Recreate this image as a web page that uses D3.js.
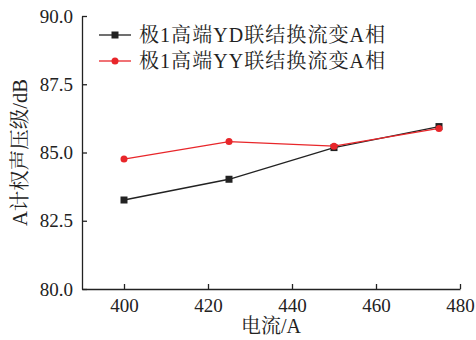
<!DOCTYPE html>
<html><head><meta charset="utf-8">
<script src="https://cdn.jsdelivr.net/npm/d3@7/dist/d3.min.js"></script>
<style>body{margin:0;background:#fff}svg{display:block}</style>
</head><body><svg id="c" width="476" height="340"></svg>
<script>
const currents = [400, 425, 450, 475];
const seriesYD = [83.26, 84.02, 85.18, 85.95];
const seriesYY = [84.76, 85.40, 85.23, 85.88];
const seriesNames = ["极1高端YD联结换流变A相", "极1高端YY联结换流变A相"];
const xTicks = [400, 420, 440, 460, 480];
const yTicks = [80.0, 82.5, 85.0, 87.5, 90.0];

const svg = d3.select("#c");
const m = {l: 82, r: 460, t: 16, b: 289};
const x = d3.scaleLinear().domain([390, 480]).range([m.l, m.r]);
const y = d3.scaleLinear().domain([80, 90]).range([m.b, m.t]);
const font = "'Liberation Serif','Times New Roman','Noto Serif CJK SC','Noto Sans CJK SC',serif";

const xa = svg.append("g").attr("transform", `translate(0,${m.b})`)
  .call(d3.axisBottom(x).tickValues(xTicks).tickSize(-5).tickPadding(10).tickSizeOuter(0));
const ya = svg.append("g").attr("transform", `translate(${m.l},0)`)
  .call(d3.axisLeft(y).tickValues(yTicks).tickFormat(d3.format(".1f")).tickSize(-5).tickPadding(9).tickSizeOuter(0));
[xa, ya].forEach(a => {
  a.selectAll("path,line").attr("stroke", "#222").attr("stroke-width", 1.3);
  a.selectAll("text").attr("font-family", font).attr("font-size", 19).attr("fill", "#222");
});

const series = [
  {vals: seriesYD, color: "#222222", shape: "square"},
  {vals: seriesYY, color: "#e8262a", shape: "circle"}
];
const line = d3.line().x(d => x(d[0])).y(d => y(d[1]));
series.forEach(s => {
  const pts = currents.map((c, i) => [c, s.vals[i]]);
  svg.append("path").datum(pts).attr("d", line).attr("fill", "none")
    .attr("stroke", s.color).attr("stroke-width", 1.3);
  if (s.shape === "square") {
    svg.selectAll(null).data(pts).enter().append("rect")
      .attr("x", d => x(d[0]) - 3.5).attr("y", d => y(d[1]) - 3.5)
      .attr("width", 7).attr("height", 7).attr("fill", s.color);
  } else {
    svg.selectAll(null).data(pts).enter().append("circle")
      .attr("cx", d => x(d[0])).attr("cy", d => y(d[1])).attr("r", 3.5).attr("fill", s.color);
  }
});

// legend
series.forEach((s, i) => {
  const ly = 35 + i * 26;
  svg.append("line").attr("x1", 99).attr("x2", 131).attr("y1", ly).attr("y2", ly)
    .attr("stroke", s.color).attr("stroke-width", 1.3);
  if (s.shape === "square") svg.append("rect").attr("x", 115 - 3.5).attr("y", ly - 3.5).attr("width", 7).attr("height", 7).attr("fill", s.color);
  else svg.append("circle").attr("cx", 115).attr("cy", ly).attr("r", 3.5).attr("fill", s.color);
  svg.append("text").attr("x", 139).attr("y", ly + 7).attr("font-family", font)
    .attr("font-size", 20).attr("fill", "#222")
    .attr("textLength", 246).attr("lengthAdjust", "spacing").text(seriesNames[i]);
});

svg.append("text").attr("x", x(435)).attr("y", 333).attr("text-anchor", "middle")
  .attr("font-family", font).attr("font-size", 20).attr("fill", "#222").text("电流/A");
svg.append("text").attr("transform", `translate(27,${y(85)}) rotate(-90)`).attr("text-anchor", "middle")
  .attr("font-family", font).attr("font-size", 20.5).attr("fill", "#222").text("A计权声压级/dB");
</script></body></html>
